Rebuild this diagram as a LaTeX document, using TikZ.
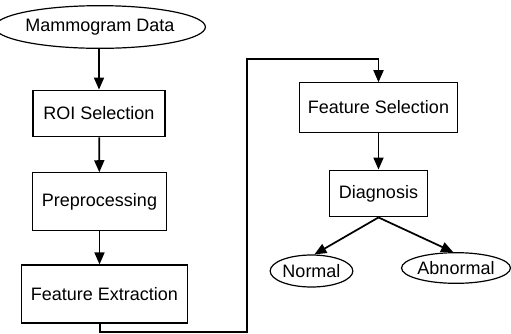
\documentclass[tikz,border=0pt]{standalone}
\usepackage{fontspec}
\setmainfont{Liberation Sans}
\usetikzlibrary{shapes.geometric,arrows.meta}
\begin{document}
\begin{tikzpicture}[x=0.75pt,y=-0.75pt,
  every node/.style={font=\fontsize{13.5}{15}\selectfont, inner sep=0pt},
  procbox/.style={draw, line width=0.9pt, rectangle},
  termell/.style={draw, line width=0.9pt, ellipse},
  arr/.style={line width=1.3pt, -{Triangle[length=9pt,width=7.5pt]}}]
\useasboundingbox (0,0) rectangle (511,333);
\node[termell, minimum width=139.5pt, minimum height=32pt] (md) at (100,27) {Mammogram Data};
\node[procbox, minimum width=99pt, minimum height=35pt] (roi) at (99,113.5) {ROI Selection};
\node[procbox, minimum width=101pt, minimum height=43pt] (pre) at (99.5,201.5) {Preprocessing};
\node[procbox, minimum width=124pt, minimum height=43.5pt] (fe) at (104.5,294) {Feature Extraction};
\node[procbox, minimum width=118pt, minimum height=37pt] (fs) at (378.5,107.5) {Feature Selection};
\node[procbox, minimum width=73pt, minimum height=35pt] (dg) at (378.5,193.5) {Diagnosis};
\node[termell, minimum width=62pt, minimum height=24pt] (nm) at (311.5,271) {Normal};
\node[termell, minimum width=81pt, minimum height=23pt] (ab) at (456,268) {Abnormal};
\coordinate (fx) at (100,332);
\coordinate (up) at (247,59);
\draw[arr] (md.south -| roi.north) -- (roi.north);
\draw[arr] (roi) -- (pre);
\draw[arr] (pre.south) -- (pre.south |- fe.north);
\draw[arr] (fe.south -| fx) -- (fx) -| (up) -| (fs.north);
\draw[arr] (fs) -- (dg);
\draw[arr] (dg.south) -- (nm.80);
\draw[arr] (dg.south) -- (ab.100);
\end{tikzpicture}
\end{document}
